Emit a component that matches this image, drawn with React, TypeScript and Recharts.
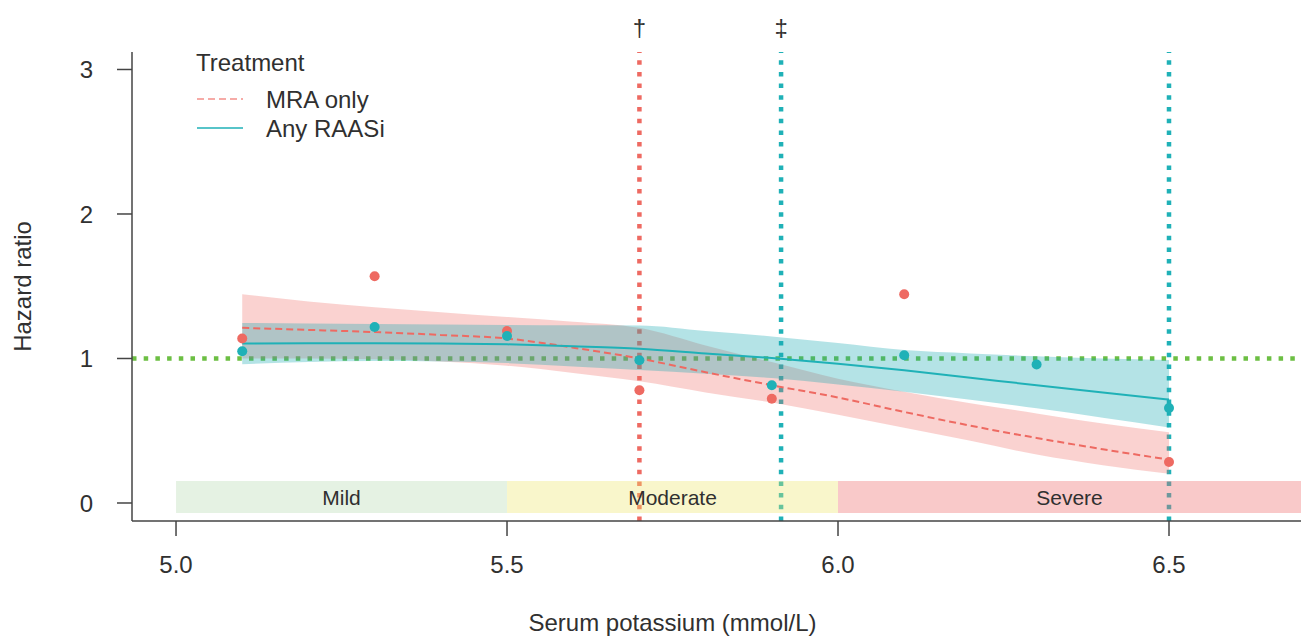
import React from 'react';
import {
  ComposedChart, Area, Line, Scatter, XAxis, YAxis, ReferenceLine, ReferenceArea, Legend,
} from 'recharts';

// ---- data ----
const curveK = [5.1, 5.2, 5.3, 5.4, 5.5, 5.6, 5.7, 5.8, 5.9, 6.0, 6.1, 6.2, 6.3, 6.4, 6.5];
const mraFit = [1.212, 1.198, 1.183, 1.163, 1.138, 1.075, 1.0, 0.905, 0.815, 0.73, 0.63, 0.535, 0.45, 0.372, 0.3];
const mraLo = [1.0, 1.0, 0.995, 0.98, 0.95, 0.9, 0.842, 0.765, 0.695, 0.61, 0.52, 0.43, 0.335, 0.262, 0.203];
const mraHi = [1.445, 1.395, 1.355, 1.32, 1.287, 1.255, 1.212, 1.09, 0.975, 0.86, 0.77, 0.69, 0.62, 0.55, 0.49];
const raasiFit = [1.103, 1.105, 1.106, 1.104, 1.098, 1.085, 1.068, 1.035, 1.003, 0.963, 0.918, 0.867, 0.815, 0.765, 0.716];
const raasiLo = [0.96, 0.975, 0.982, 0.98, 0.968, 0.945, 0.92, 0.895, 0.865, 0.82, 0.77, 0.715, 0.655, 0.59, 0.522];
const raasiHi = [1.246, 1.242, 1.238, 1.235, 1.232, 1.23, 1.229, 1.19, 1.153, 1.107, 1.058, 1.035, 1.016, 1.0, 0.99];

const mraPointK = [5.1, 5.3, 5.5, 5.7, 5.9, 6.1, 6.5];
const mraPointHR = [1.138, 1.569, 1.19, 0.78, 0.722, 1.444, 0.284];
const raasiPointK = [5.1, 5.3, 5.5, 5.7, 5.9, 6.1, 6.3, 6.5];
const raasiPointHR = [1.05, 1.218, 1.156, 0.988, 0.815, 1.022, 0.958, 0.658];

const xTicks = [5.0, 5.5, 6.0, 6.5];
const yTicks = [0, 1, 2, 3];
const xDomain = [4.9335, 6.6994];
const yDomain = [-0.1246, 3.121];

const severityNames = ['Mild', 'Moderate', 'Severe'];
const severityFrom = [5.0, 5.5, 6.0];
const severityTo = [5.5, 6.0, 6.6994];
const severityFill = ['#a8d5a2', '#eee66a', '#f07070'];
const severityOpacity = [0.3, 0.35, 0.38];
const severityLow = -0.07;
const severityHigh = 0.152;

const mraCut = 5.7;
const raasiCut = 5.914;
const raasiCut2 = 6.5;
const nullHR = 1;

const legendTitle = 'Treatment';
const seriesNames = ['MRA only', 'Any RAASi'];

// ---- styles ----
const RED = '#ee6a62';
const TEAL = '#1fb1b7';
const GREEN = '#6cbf43';
const TEXT = '#303030';
const AXIS = '#444444';
const FONT = '"Liberation Sans", Arial, Helvetica, sans-serif';

const curveData = curveK.map((k, i) => ({
  x: k,
  mraFit: mraFit[i],
  mraBand: [mraLo[i], mraHi[i]],
  raasiFit: raasiFit[i],
  raasiBand: [raasiLo[i], raasiHi[i]],
}));
const mraPoints = mraPointK.map((k, i) => ({ x: k, y: mraPointHR[i] }));
const raasiPoints = raasiPointK.map((k, i) => ({ x: k, y: raasiPointHR[i] }));

const dotShape = (color: string) => (props: any) => (
  <circle cx={props.cx} cy={props.cy} r={5} fill={color} />
);

const renderLegend = () => (
  <svg width={260} height={110} style={{ display: 'block', overflow: 'visible' }}>
    <text x={6} y={22} fontSize={24} fill={TEXT} fontFamily={FONT} dominantBaseline="central">{legendTitle}</text>
    <line x1={7} x2={53} y1={59} y2={59} stroke="#f4908a" strokeWidth={1.6} strokeDasharray="7 4" />
    <text x={76} y={59} fontSize={24} fill={TEXT} fontFamily={FONT} dominantBaseline="central">{seriesNames[0]}</text>
    <line x1={7} x2={53} y1={88} y2={88} stroke={TEAL} strokeWidth={1.6} />
    <text x={76} y={88} fontSize={24} fill={TEXT} fontFamily={FONT} dominantBaseline="central">{seriesNames[1]}</text>
  </svg>
);

const daggerLabel = (sym: string) => (props: any) => {
  const vb = props.viewBox || {};
  return (
    <text x={vb.x} y={(vb.y ?? 0) - 25} textAnchor="middle" dominantBaseline="central"
      fontSize={24} fill={TEXT} fontFamily={FONT}>{sym}</text>
  );
};

const bandLabel = (name: string) => (props: any) => {
  const vb = props.viewBox || {};
  return (
    <text x={vb.x + vb.width / 2} y={vb.y + vb.height / 2} textAnchor="middle" dominantBaseline="central"
      fontSize={21} fill={TEXT} fontFamily={FONT}>{name}</text>
  );
};

const yTitle = (props: any) => {
  const vb = props.viewBox || {};
  const cx = 22;
  const cy = vb.y + vb.height / 2;
  return (
    <text x={cx} y={cy} transform={`rotate(-90 ${cx} ${cy})`} textAnchor="middle" dominantBaseline="central"
      fontSize={24} fill={TEXT} fontFamily={FONT}>Hazard ratio</text>
  );
};

const xTitle = (props: any) => {
  const vb = props.viewBox || {};
  return (
    <text x={vb.x + vb.width / 2 - 44} y={622} textAnchor="middle" dominantBaseline="central"
      fontSize={24} fill={TEXT} fontFamily={FONT}>Serum potassium (mmol/L)</text>
  );
};

const refLineProps = { strokeWidth: 4.5, strokeDasharray: '4.5 7.2', zIndex: -50 } as any;

export default function App() {
  return (
    <div style={{ position: 'absolute', left: 0, top: 0, width: 1301, height: 637, background: '#fff' }}>
      <ComposedChart width={1301} height={637} data={curveData}
        margin={{ top: 52, right: 0, bottom: 0, left: 0 }}>
        <XAxis dataKey="x" type="number" domain={xDomain} ticks={xTicks} allowDataOverflow
          tickFormatter={(v: number) => v.toFixed(1)} height={116}
          stroke={AXIS} strokeWidth={1.5} tickSize={15} tickMargin={20}
          tick={{ fontSize: 24, fill: TEXT, fontFamily: FONT }}
          label={xTitle} />
        <YAxis type="number" domain={yDomain} ticks={yTicks} allowDataOverflow width={132}
          stroke={AXIS} strokeWidth={1.5} tickSize={15} tickMargin={24}
          tick={{ fontSize: 24, fill: TEXT, fontFamily: FONT }}
          label={yTitle} />

        <ReferenceLine x={mraCut} stroke={RED} {...refLineProps} label={daggerLabel('†')} />
        <ReferenceLine x={raasiCut} stroke={TEAL} {...refLineProps} label={daggerLabel('‡')} />
        <ReferenceLine x={raasiCut2} stroke={TEAL} {...refLineProps} />
        <ReferenceLine y={nullHR} stroke={GREEN} {...refLineProps} />

        {severityNames.map((name, i) => (
          <ReferenceArea key={name} x1={severityFrom[i]} x2={severityTo[i]} y1={severityLow} y2={severityHigh}
            fill={severityFill[i]} fillOpacity={severityOpacity[i]} stroke="none" label={bandLabel(name)}
            {...({ zIndex: -20 } as any)} />
        ))}

        <Area dataKey="mraBand" type="monotone" stroke="none" fill={RED} fillOpacity={0.3}
          isAnimationActive={false} activeDot={false} />
        <Line dataKey="mraFit" type="monotone" stroke={RED} strokeWidth={2} strokeDasharray="7 4"
          dot={false} activeDot={false} isAnimationActive={false} />
        <Scatter data={mraPoints} dataKey="y" shape={dotShape(RED)} isAnimationActive={false} />

        <Area dataKey="raasiBand" type="monotone" stroke="none" fill="#17a9b0" fillOpacity={0.32}
          isAnimationActive={false} activeDot={false} />
        <Line dataKey="raasiFit" type="monotone" stroke={TEAL} strokeWidth={2}
          dot={false} activeDot={false} isAnimationActive={false} />
        <Scatter data={raasiPoints} dataKey="y" shape={dotShape(TEAL)} isAnimationActive={false} />

        <Legend layout="vertical" align="center" verticalAlign="middle" content={renderLegend}
          wrapperStyle={{ left: 190, top: 40, width: 260, height: 110 }} />
      </ComposedChart>
    </div>
  );
}
